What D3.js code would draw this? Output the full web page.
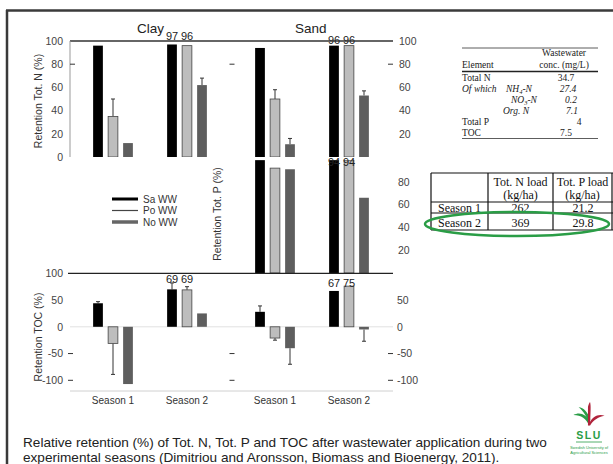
<!DOCTYPE html>
<html><head><meta charset="utf-8">
<script src="https://cdn.jsdelivr.net/npm/d3@7"></script>
<style>
body{margin:0;background:#fff}
svg{display:block;font-family:"Liberation Sans",Arial,sans-serif}
</style></head><body>
<svg id="viz" width="613" height="464"></svg>
<script>
// ---- data ----
var series = ["Sa WW","Po WW","No WW"];
var seasons = ["Season 1","Season 2"];
var soils = ["Clay","Sand"];

// retention (%) as [season][series]; err = end of error bar
var nClay = [[96,35,12],[97,96,62]];
var nClayErr = [[null,50,null],[null,null,68]];
var nSand = [[94,50,11],[96,96,53]];
var nSandErr = [[null,58,16],[null,null,57]];
var pClay = [[],[]];
var pClayErr = [[],[]];
var pSand = [[99,92,91],[99,99,66]];
var pSandErr = [[null,null,null],[null,null,null]];
var tocClay = [[44,-31,-107],[70,69,25]];
var tocClayErr = [[47,-89,null],[82,75,null]];
var tocSand = [[28,-21,-40],[67,76,-5]];
var tocSandErr = [[39,-25,-70],[null,null,-27]];

// numbers printed over bars that run off the panel: [soil, season, series, value, text]
var nLabels = [["Clay",1,0,98,"97"],["Clay",1,1,98,"96"],["Sand",1,0,95,"96"],["Sand",1,1,95,"96"]];
var pLabels = [["Sand",1,0,94,"94"],["Sand",1,1,94,"94"]];
var tocLabels = [["Clay",1,0,75,"69"],["Clay",1,1,75,"69"],["Sand",1,0,67,"67"],["Sand",1,1,67,"75"]];

var nTicksLeft = [0,20,40,60,80,100];
var nTicksRight = [20,40,60,80,100];
var pTicksRight = [20,40,60,80];
var tocTicksLeft = [-100,-50,0,50,100];
var tocTicksRight = [-100,-50,0,50];
var nDash = [80];
var tocDash = [-50,-100];

var concRows = [["Total N","","","34.7"],["Of which","NH","4","27.4"],["","NO","3","0.2"],["","Org. N","","7.1"],["Total P","","","4"],["TOC","","","7.5"]];
var loadCols = ["Tot. N load","Tot. P load"];
var loadRows = [["Season 1","262","21.2"],["Season 2","369","29.8"]];

var caption = ["Relative retention (%) of Tot. N, Tot. P and TOC after wastewater application during two",
  "experimental seasons (Dimitriou and Aronsson, Biomass and Bioenergy, 2011)."];

// ---- layout ----
var svg = d3.select("#viz");
var colors = {"Sa WW":"#000","Po WW":"#bdbdbd","No WW":"#5e5e5e"};
var plain = function(d){ return String(d); };

var xSoil = {
  Clay: d3.scaleBand().domain(seasons).range([76,224]),
  Sand: d3.scaleBand().domain(seasons).range([238,386])
};
var xSeries = d3.scaleBand().domain(series).range([-22.5,22.5]).paddingInner(0.35).paddingOuter(0.175);

var yN = d3.scaleLinear().domain([0,100]).range([157,41]);
var yP = d3.scaleLinear().domain([0,100]).range([273,159]);
var yT = d3.scaleLinear().domain([-120,100]).range([391,273.3]);

function barX(soil, si, k){
  var s = xSoil[soil];
  return s(seasons[si]) + s.bandwidth()/2 + xSeries(series[k]);
}

var defs = svg.append("defs");
defs.append("clipPath").attr("id","clipN").append("rect").attr("x",60).attr("y",41).attr("width",340).attr("height",116);
defs.append("clipPath").attr("id","clipP").append("rect").attr("x",228).attr("y",160).attr("width",170).attr("height",113);

// slide frame
svg.append("line").attr("x1",6).attr("x2",613).attr("y1",10.5).attr("y2",10.5).attr("stroke","#3a3a3a").attr("stroke-width",2.5);
svg.append("line").attr("x1",7).attr("x2",7).attr("y1",10).attr("y2",464).attr("stroke","#3a3a3a").attr("stroke-width",2.5);

function drawBars(g, soil, vals, errs, y){
  var rows = [];
  vals.forEach(function(row, si){
    row.forEach(function(v, k){
      rows.push({soil:soil, si:si, k:k, v:v, e:errs[si][k]});
    });
  });
  var w = xSeries.bandwidth();
  g.selectAll(null).data(rows.filter(function(d){return d.e!=null;})).enter().append("path")
    .attr("d", function(d){
      var cx = barX(d.soil,d.si,d.k)+w/2;
      return "M"+cx+","+y(d.v)+"V"+y(d.e)+"M"+(cx-2)+","+y(d.e)+"H"+(cx+2);
    })
    .attr("stroke","#333").attr("stroke-width",1).attr("fill","none");
  g.selectAll(null).data(rows).enter().append("rect")
    .attr("x", function(d){return barX(d.soil,d.si,d.k);})
    .attr("width", w)
    .attr("y", function(d){return Math.min(y(d.v), y(0));})
    .attr("height", function(d){return Math.abs(y(d.v)-y(0));})
    .attr("fill", function(d){return colors[series[d.k]];})
    .attr("stroke", function(d){return d.k==1 ? "#444" : "none";})
    .attr("stroke-width",0.8);
}

function drawLabels(g, labels, y, dy){
  var w = xSeries.bandwidth();
  g.selectAll(null).data(labels).enter().append("text")
    .attr("x", function(d){return barX(d[0],d[1],d[2])+w/2;})
    .attr("y", function(d){return y(d[3])+dy;})
    .attr("text-anchor","middle").attr("font-size",11).attr("fill","#222")
    .text(function(d){return d[4];});
}

function dashes(values, x, y){
  svg.append("g").selectAll(null).data(values).enter().append("line")
    .attr("x1",x).attr("x2",x+5).attr("y1",function(d){return y(d);}).attr("y2",function(d){return y(d);})
    .attr("stroke","#333").attr("stroke-width",1);
}

function styleAxis(g){
  g.selectAll("text").attr("fill","#444").attr("font-size",10.5);
  g.select(".domain").remove();
}

// ---- Tot. N panel ----
var gN = svg.append("g").attr("clip-path","url(#clipN)");
drawBars(gN,"Clay",nClay,nClayErr,yN);
drawBars(gN,"Sand",nSand,nSandErr,yN);
drawLabels(svg,nLabels,yN,-3);
svg.append("line").attr("x1",70).attr("x2",393).attr("y1",yN(100)).attr("y2",yN(100)).attr("stroke","#333").attr("stroke-width",1.3);
svg.append("line").attr("x1",70).attr("x2",70).attr("y1",yN(100)).attr("y2",yN(0)).attr("stroke","#999").attr("stroke-width",1);
svg.append("g").attr("transform","translate(70,0)").call(d3.axisLeft(yN).tickValues(nTicksLeft).tickFormat(plain).tickSize(0).tickPadding(7)).call(styleAxis);
svg.append("g").attr("transform","translate(393,0)").call(d3.axisRight(yN).tickValues(nTicksRight).tickFormat(plain).tickSize(0).tickPadding(6)).call(styleAxis);
dashes(nDash,70,yN); dashes(nDash,229.5,yN); dashes(nDash,388,yN);

// ---- Tot. P panel ----
var gP = svg.append("g").attr("clip-path","url(#clipP)");
drawBars(gP,"Clay",pClay,pClayErr,yP);
drawBars(gP,"Sand",pSand,pSandErr,yP);
drawLabels(svg,pLabels,yP,0);
svg.append("g").attr("transform","translate(393,0)").call(d3.axisRight(yP).tickValues(pTicksRight).tickFormat(plain).tickSize(0).tickPadding(5)).call(styleAxis);

// ---- TOC panel ----
svg.append("line").attr("x1",70).attr("x2",393).attr("y1",yT(0)).attr("y2",yT(0)).attr("stroke","#e2e2e2");
svg.append("line").attr("x1",70).attr("x2",393).attr("y1",yT(-120)).attr("y2",yT(-120)).attr("stroke","#d0d0d0");
var gT = svg.append("g");
drawBars(gT,"Clay",tocClay,tocClayErr,yT);
drawBars(gT,"Sand",tocSand,tocSandErr,yT);
svg.append("line").attr("x1",68).attr("x2",393).attr("y1",yT(100)).attr("y2",yT(100)).attr("stroke","#222").attr("stroke-width",1.3);
drawLabels(svg,tocLabels,yT,-4);
svg.append("g").attr("transform","translate(68,0)").call(d3.axisLeft(yT).tickValues(tocTicksLeft).tickFormat(plain).tickSize(0).tickPadding(5)).call(styleAxis);
svg.append("g").attr("transform","translate(393,0)").call(d3.axisRight(yT).tickValues(tocTicksRight).tickFormat(plain).tickSize(0).tickPadding(4)).call(styleAxis);
dashes(tocDash,68,yT); dashes(tocDash,229.5,yT); dashes(tocDash,388,yT);

// season labels
soils.forEach(function(soil){
  svg.append("g").selectAll(null).data(seasons).enter().append("text")
    .attr("x", function(d){return xSoil[soil](d)+xSoil[soil].bandwidth()/2;})
    .attr("y",404).attr("text-anchor","middle").attr("font-size",10).attr("fill","#333")
    .text(function(d){return d;});
});

// soil titles
svg.append("text").attr("x",137).attr("y",33).attr("font-size",13.5).attr("fill","#222").text(soils[0]);
svg.append("text").attr("x",295).attr("y",33).attr("font-size",13.5).attr("fill","#222").text(soils[1]);

// axis titles
[["Retention Tot. N (%)",42,101],["Retention Tot. P (%)",221,214],["Retention TOC (%)",42,337]].forEach(function(t){
  svg.append("text").attr("transform","translate("+t[1]+","+t[2]+") rotate(-90)")
    .attr("text-anchor","middle").attr("font-size",10.5).attr("fill","#333").text(t[0]);
});

// legend
var leg = svg.append("g").attr("transform","translate(112,199)");
var legW = {"Sa WW":3,"Po WW":1.2,"No WW":3.5};
var legC = {"Sa WW":"#000","Po WW":"#444","No WW":"#666"};
series.forEach(function(s,i){
  leg.append("line").attr("x1",0).attr("x2",26).attr("y1",i*11.5).attr("y2",i*11.5)
    .attr("stroke",legC[s]).attr("stroke-width",legW[s]);
  leg.append("text").attr("x",31).attr("y",i*11.5+3.5).attr("font-size",10).attr("fill","#333").text(s);
});

// ---- wastewater table ----
var t1 = svg.append("g").attr("font-family","'Liberation Serif','Times New Roman',serif").attr("font-size",9.5).attr("fill","#222");
t1.append("line").attr("x1",462).attr("x2",598).attr("y1",48).attr("y2",48).attr("stroke","#333").attr("stroke-width",0.8);
t1.append("line").attr("x1",462).attr("x2",598).attr("y1",71.5).attr("y2",71.5).attr("stroke","#222").attr("stroke-width",1.3);
t1.append("line").attr("x1",462).attr("x2",598).attr("y1",138.5).attr("y2",138.5).attr("stroke","#333").attr("stroke-width",0.8);
t1.append("text").attr("x",564).attr("y",56).attr("text-anchor","middle").text("Wastewater");
t1.append("text").attr("x",564).attr("y",67.5).attr("text-anchor","middle").text("conc. (mg/L)");
t1.append("text").attr("x",462).attr("y",67.5).text("Element");
var valX = [566,568,571,572,579,566];
concRows.forEach(function(r,i){
  var yy = 80.5 + i*11;
  var first = t1.append("text").attr("x",462).attr("y",yy).text(r[0]);
  if (i==1) first.attr("font-style","italic");
  if (r[1]) {
    var nx = i==3 ? 503 : (i==2 ? 511 : 506);
    var tx = t1.append("text").attr("x",nx).attr("y",yy).attr("font-style","italic");
    tx.append("tspan").text(r[1]);
    if (r[2]) {
      tx.append("tspan").attr("font-size",6.5).attr("dy",2).text(r[2]);
      tx.append("tspan").attr("dy",-2).text("-N");
    }
  }
  var v = t1.append("text").attr("x",valX[i]).attr("y",yy).attr("text-anchor","middle").text(r[3]);
  if (i>=1 && i<=3) v.attr("font-style","italic");
});

// ---- load table ----
var t2 = svg.append("g").attr("font-family","'Liberation Serif','Times New Roman',serif").attr("font-size",12).attr("fill","#111");
var colX = [431,488,553,612];
var rowY = [173,202,213,230];
colX.forEach(function(x){
  t2.append("line").attr("x1",x).attr("x2",x).attr("y1",rowY[0]).attr("y2",rowY[3]).attr("stroke","#111").attr("stroke-width",1.2);
});
rowY.forEach(function(y){
  t2.append("line").attr("x1",colX[0]).attr("x2",613).attr("y1",y).attr("y2",y).attr("stroke","#111").attr("stroke-width",1.2);
});
loadCols.forEach(function(c,i){
  var cx = (colX[i+1]+colX[i+2])/2;
  t2.append("text").attr("x",cx).attr("y",186).attr("text-anchor","middle").text(c);
  t2.append("text").attr("x",cx).attr("y",199).attr("text-anchor","middle").text("(kg/ha)");
});
loadRows.forEach(function(r,i){
  var yy = i==0 ? 212 : 227;
  t2.append("text").attr("x",459.5).attr("y",yy).attr("text-anchor","middle").text(r[0]);
  t2.append("text").attr("x",520.5).attr("y",yy).attr("text-anchor","middle").text(r[1]);
  t2.append("text").attr("x",583).attr("y",yy).attr("text-anchor","middle").text(r[2]);
});
svg.append("ellipse").attr("cx",517).attr("cy",224).attr("rx",92).attr("ry",12)
  .attr("fill","none").attr("stroke","#2a9d46").attr("stroke-width",2.5);

// ---- caption ----
svg.append("g").selectAll(null).data(caption).enter().append("text")
  .attr("x",23).attr("y",function(d,i){return 447+i*14.5;})
  .attr("font-size",13.6).attr("fill","#222").text(function(d){return d;});

// ---- SLU logo ----
var logo = svg.append("g").attr("transform","translate(589,402)");
var plant = logo.append("g").attr("transform","scale(1.3)");
plant.append("path").attr("d","M0,18 C-2,13 -6,10 -12,10 C-7,7 -2,10 0,14 Z").attr("fill","#2a9d46");
plant.append("path").attr("d","M0,18 C-1,12 -4,7 -8,4 C-4,4 -1,8 1,13 Z").attr("fill","#2a9d46");
plant.append("path").attr("d","M-0.8,18 L-0.8,5 C-0.8,2 0.8,0 0.8,0 C1.6,3 1.2,7 0.8,18 Z").attr("fill","#b0243c");
plant.append("path").attr("d","M0,17 C2.5,11 7,9 12,10.5 C7,11.5 3,14 0.8,18 Z").attr("fill","#b0243c");
logo.append("text").attr("x",0).attr("y",37).attr("text-anchor","middle").attr("font-size",10.5).attr("font-weight","bold")
  .attr("letter-spacing",1.5).attr("fill","#2a9d46").text("SLU");
logo.append("line").attr("x1",-13).attr("x2",13).attr("y1",40).attr("y2",40).attr("stroke","#2a9d46").attr("stroke-width",0.8);
logo.append("text").attr("x",0).attr("y",47).attr("text-anchor","middle").attr("font-size",4).attr("fill","#2a9d46").text("Swedish University of");
logo.append("text").attr("x",0).attr("y",52).attr("text-anchor","middle").attr("font-size",4).attr("fill","#2a9d46").text("Agricultural Sciences");
</script>
</body></html>
